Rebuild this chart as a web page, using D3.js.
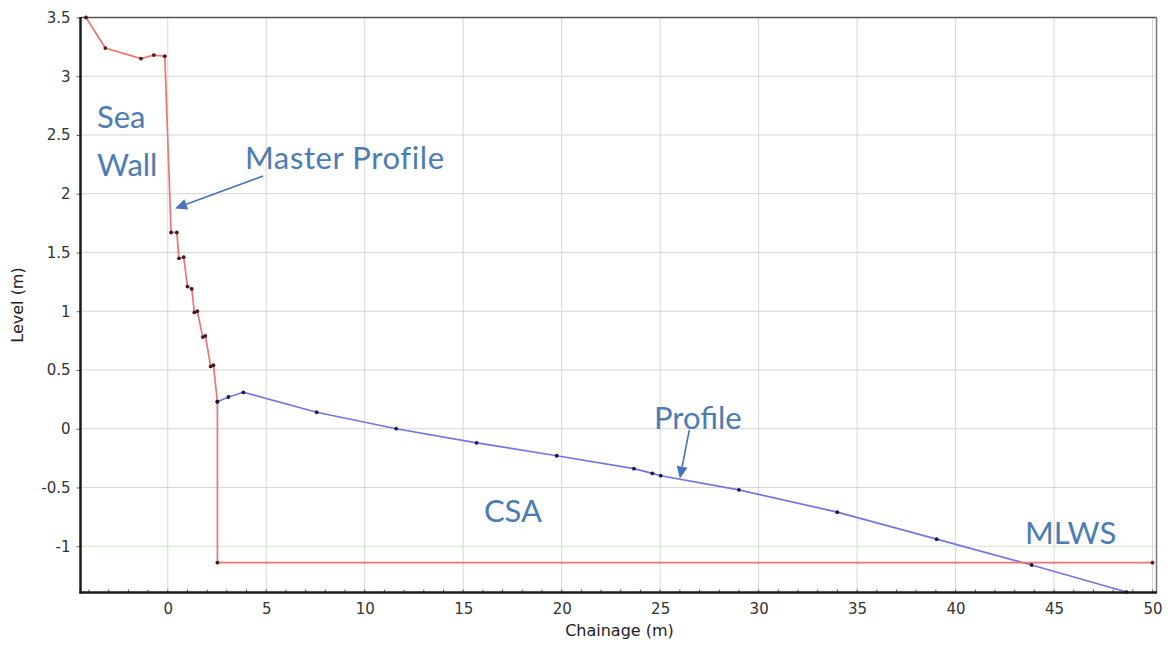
<!DOCTYPE html>
<html>
<head>
<meta charset="utf-8">
<script src="https://cdn.jsdelivr.net/npm/d3@7/dist/d3.min.js"></script>
<style>
  html, body { margin: 0; padding: 0; background: #fff; }
  svg { display: block; }
</style>
</head>
<body>
<svg id="chart" width="1169" height="646"></svg>
<script>
// Master profile (sea wall, revetment steps, then down to MLWS and along it)
const masterChainage = [-4.15, -3.17, -1.36, -0.71, -0.15, 0.17, 0.46, 0.57, 0.81, 1.0, 1.22, 1.35, 1.5, 1.78, 1.91, 2.18, 2.32, 2.52, 2.52, 50.0];
const masterLevel    = [3.5, 3.24, 3.15, 3.18, 3.17, 1.67, 1.67, 1.45, 1.46, 1.21, 1.19, 0.99, 1.0, 0.78, 0.79, 0.53, 0.54, 0.23, -1.14, -1.14];

// Surveyed beach profile
const profileChainage = [2.52, 3.08, 3.84, 7.56, 11.6, 15.68, 19.75, 23.67, 24.6, 25.03, 29.0, 33.99, 39.04, 43.86, 48.68];
const profileLevel    = [0.23, 0.27, 0.31, 0.14, 0.0, -0.12, -0.23, -0.34, -0.38, -0.40, -0.52, -0.71, -0.94, -1.16, -1.39];

// Axis ticks
const xTicks = [0, 5, 10, 15, 20, 25, 30, 35, 40, 45, 50];
const yTicks = [-1, -0.5, 0, 0.5, 1, 1.5, 2, 2.5, 3, 3.5];
const xMinor = d3.range(-4, 51, 1);

// Text annotations [label, chainage, level]
const notes = [
  ["Sea", -3.59, 2.56],
  ["Wall", -3.59, 2.15],
  ["Master Profile", 3.92, 2.21],
  ["Profile", 24.69, 0.0],
  ["CSA", 16.05, -0.795],
  ["MLWS", 43.52, -0.985]
];
// Arrows [fromChainage, fromLevel, toChainage, toLevel]
const arrows = [
  [4.84, 2.15, 0.37, 1.875],
  [26.48, -0.01, 26.0, -0.424]
];

const svg = d3.select("#chart");
const plotL = 80.5, plotR = 1156.5, plotT = 17.5, plotB = 592.5;

const x = d3.scaleLinear().domain([-4.43, 50.2]).range([plotL, plotR]);
const y = d3.scaleLinear().domain([-1.394, 3.5]).range([plotB, plotT]);

// grid
const grid = svg.append("g");
grid.selectAll("line.v").data(xTicks).join("line")
  .attr("x1", d => x(d)).attr("x2", d => x(d))
  .attr("y1", plotT).attr("y2", plotB)
  .attr("stroke", "#d6d6d6").attr("stroke-width", 1);
grid.selectAll("line.h").data(yTicks).join("line")
  .attr("y1", d => y(d)).attr("y2", d => y(d))
  .attr("x1", plotL).attr("x2", plotR)
  .attr("stroke", d => d === -1 ? "#cfe5c8" : "#d6d6d6").attr("stroke-width", 1);

// frame: top and right
svg.append("line").attr("x1", plotL).attr("x2", plotR).attr("y1", plotT).attr("y2", plotT)
  .attr("stroke", "#555").attr("stroke-width", 1.5);
svg.append("line").attr("x1", plotR).attr("x2", plotR).attr("y1", plotT).attr("y2", plotB)
  .attr("stroke", "#777").attr("stroke-width", 1.5);

// series
const masterPts = masterChainage.map((c, i) => [c, masterLevel[i]]);
const profilePts = profileChainage.map((c, i) => [c, profileLevel[i]]);
const line = d3.line().x(d => x(d[0])).y(d => y(d[1]));

svg.append("path").datum(profilePts).attr("d", line)
  .attr("fill", "none").attr("stroke", "#7474e2").attr("stroke-width", 1.7);
svg.append("path").datum(masterPts).attr("d", line)
  .attr("fill", "none").attr("stroke", "#f07474").attr("stroke-width", 1.7);

svg.append("g").selectAll("circle").data(masterPts).join("circle")
  .attr("cx", d => x(d[0])).attr("cy", d => y(d[1])).attr("r", 1.9)
  .attr("fill", "#4a1a22");
svg.append("g").selectAll("circle").data(profilePts).join("circle")
  .attr("cx", d => x(d[0])).attr("cy", d => y(d[1])).attr("r", 1.9)
  .attr("fill", "#1a1a40");

// axes
const axisFont = "'DejaVu Sans', Verdana, sans-serif";
const xAxis = d3.axisBottom(x).tickValues(xTicks).tickFormat(d => String(d)).tickSize(0).tickPadding(11);
const gx = svg.append("g").attr("transform", `translate(0,${plotB})`).call(xAxis);
gx.select(".domain").remove();
gx.selectAll("text").attr("font-family", axisFont).attr("font-size", 15).attr("fill", "#333");

// minor ticks inside the plot along the bottom
svg.append("g").selectAll("line").data(xMinor).join("line")
  .attr("x1", d => x(d)).attr("x2", d => x(d))
  .attr("y1", plotB).attr("y2", plotB - 3)
  .attr("stroke", "#555").attr("stroke-width", 1);

const yAxis = d3.axisLeft(y).tickValues(yTicks).tickFormat(d => String(d)).tickSize(4).tickPadding(6);
const gy = svg.append("g").attr("transform", `translate(${plotL},0)`).call(yAxis);
gy.select(".domain").remove();
gy.selectAll(".tick line").attr("stroke", "#666");
gy.selectAll("text").attr("font-family", axisFont).attr("font-size", 15).attr("fill", "#333");

svg.append("line").attr("x1", plotL).attr("x2", plotL).attr("y1", plotT - 0.5).attr("y2", plotB + 1)
  .attr("stroke", "#1a1a1a").attr("stroke-width", 2.5);
svg.append("line").attr("x1", plotL - 1).attr("x2", plotR + 0.5).attr("y1", plotB).attr("y2", plotB)
  .attr("stroke", "#1a1a1a").attr("stroke-width", 2.5);

// axis titles
svg.append("text").text("Chainage (m)")
  .attr("x", (plotL + plotR) / 2 + 1).attr("y", 636)
  .attr("text-anchor", "middle").attr("font-family", axisFont).attr("font-size", 16).attr("fill", "#222");
svg.append("text").text("Level (m)")
  .attr("transform", `translate(23,${(plotT + plotB) / 2}) rotate(-90)`)
  .attr("text-anchor", "middle").attr("font-family", axisFont).attr("font-size", 16).attr("fill", "#222");

// annotations
const noteColor = "#4c7cb4";
svg.append("g").selectAll("text").data(notes).join("text")
  .text(d => d[0])
  .attr("x", d => x(d[1])).attr("y", d => y(d[2]))
  .attr("font-family", "Lato, 'Open Sans', sans-serif").attr("font-size", 31)
  .attr("letter-spacing", d => d[0].includes(" ") ? 0.6 : 0)
  .attr("fill", noteColor);

const ag = svg.append("g");
arrows.forEach(a => {
  const x1 = x(a[0]), y1 = y(a[1]), x2 = x(a[2]), y2 = y(a[3]);
  const ang = Math.atan2(y2 - y1, x2 - x1);
  const len = 12, hw = 5.5;
  const bx = x2 - len * Math.cos(ang), by = y2 - len * Math.sin(ang);
  ag.append("line").attr("x1", x1).attr("y1", y1).attr("x2", bx).attr("y2", by)
    .attr("stroke", "#4a72b8").attr("stroke-width", 1.6);
  const px = -Math.sin(ang) * hw, py = Math.cos(ang) * hw;
  ag.append("path")
    .attr("d", `M${x2},${y2}L${bx + px},${by + py}L${bx - px},${by - py}Z`)
    .attr("fill", "#4a72b8");
});
</script>
</body>
</html>
